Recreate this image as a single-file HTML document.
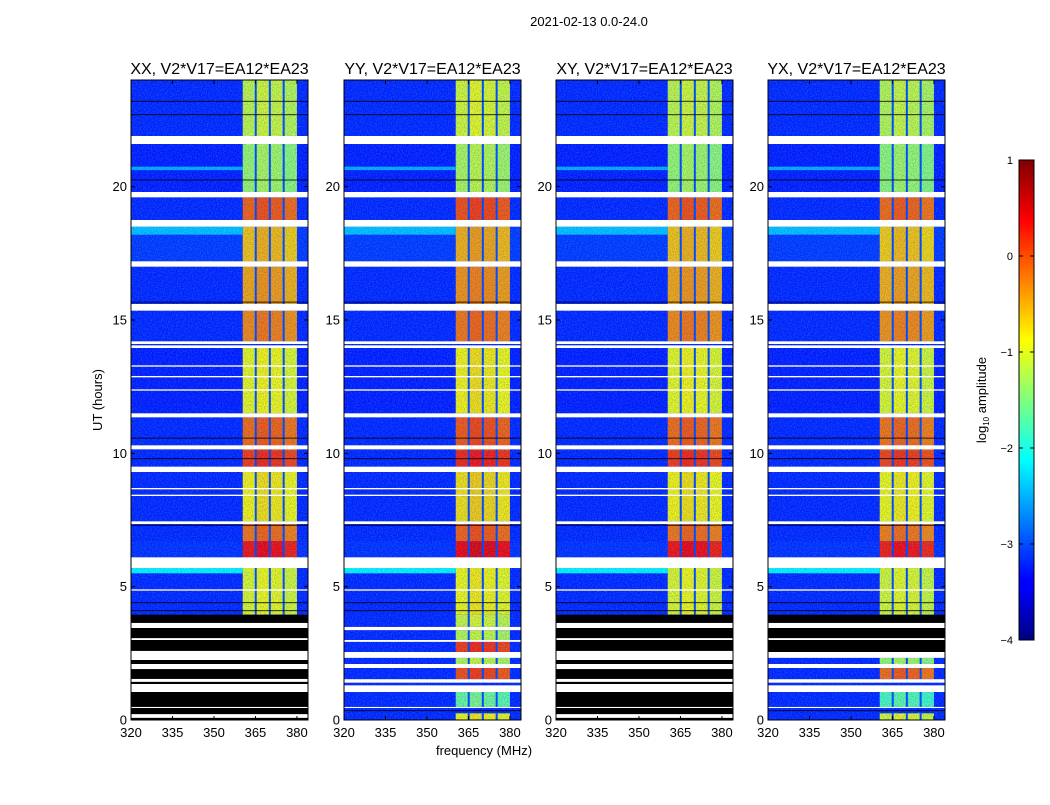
<!DOCTYPE html>
<html><head><meta charset="utf-8">
<style>
body{margin:0;background:#fff;}
svg text{font-family:"Liberation Sans",sans-serif;fill:#000;}
</style></head>
<body>
<svg id="fig" width="1050" height="800" viewBox="0 0 1050 800" xmlns="http://www.w3.org/2000/svg">
<defs>
<filter id="noise" x="0" y="0" width="100%" height="100%">
<feTurbulence type="fractalNoise" baseFrequency="0.8" numOctaves="1" seed="4"/>
<feColorMatrix values="0 0 0 0 0.1  0 0 0 0 0.6  0 0 0 0 1  0 0 0 1.2 -0.45"/>
</filter>
<filter id="noise2" x="0" y="0" width="100%" height="100%">
<feTurbulence type="fractalNoise" baseFrequency="0.9" numOctaves="1" seed="11"/>
<feColorMatrix values="0 0 0 0 0  0 0 0 0 0  0 0 0 0 0.55  0 0 0 1.2 -0.45"/>
</filter>
<linearGradient id="jet" x1="0" y1="1" x2="0" y2="0">
<stop offset="0" stop-color="#00007f"/><stop offset="0.11" stop-color="#0000ff"/>
<stop offset="0.125" stop-color="#0000ff"/><stop offset="0.375" stop-color="#00ffff"/>
<stop offset="0.625" stop-color="#ffff00"/><stop offset="0.875" stop-color="#ff0000"/>
<stop offset="1" stop-color="#7f0000"/>
</linearGradient>
</defs>
<text x="589" y="26" font-size="13" text-anchor="middle">2021-02-13 0.0-24.0</text>
<text x="484" y="755" font-size="13" text-anchor="middle">frequency (MHz)</text>
<text transform="translate(102,400) rotate(-90)" font-size="13" text-anchor="middle">UT (hours)</text>
<g id="panels"></g>
<g id="cbar">
<rect x="1019" y="160" width="15" height="480" fill="url(#jet)" stroke="#000" stroke-width="1"/>
</g>
<text transform="translate(986,400) rotate(-90)" font-size="13" text-anchor="middle">log<tspan font-size="8" dy="3">10</tspan><tspan dy="-3"> amplitude</tspan></text>
</svg>
<script>
const panelTitles=["XX, V2*V17=EA12*EA23","YY, V2*V17=EA12*EA23","XY, V2*V17=EA12*EA23","YX, V2*V17=EA12*EA23"];
const panelOffset=[0,0.1,0,-0.05];
// shared data rows (hours) with band log-amplitude and background log-amplitude
const rowStart=[24,21.6,19.6,18.5,17.0,15.35,13.95,11.35,10.1,9.3,7.35,6.7,5.7];
const rowEnd=[21.9,19.8,18.75,17.2,15.6,14.2,11.5,10.1,9.5,7.45,6.7,6.1,3.95];
const rowBand=[-1.15,-1.35,-0.1,-0.6,-0.45,-0.3,-0.95,-0.15,0.1,-0.85,-0.2,0.3,-1.0];
const rowBg=[-3.2,-3.25,-3.2,-3.1,-3.2,-3.2,-3.25,-3.2,-3.2,-3.2,-3.2,-3.15,-3.2];
// light background strips
const lightStart=[18.5,5.7,20.75];
const lightEnd=[18.2,5.5,20.62];
const lightVal=[-2.4,-2.1,-2.5];
// bottom rows for YY / YX (data present)
const lowStart=[3.95,3.37,2.93,2.33,1.95,1.05,0.25];
const lowEnd=[3.49,3.0,2.55,2.1,1.53,0.49,0];
const lowBand=[-1.2,-1.3,0.0,-1.3,-0.1,-1.7,-1.0];
const subOffset=[0,0.1,0.05,-0.05];
const subEdges=[360.4,365.1,370.2,375.2,380.0];
// flagged (white) rows
const whiteStart=[21.9,19.8,18.75,17.2,15.6,14.2,14.05,13.3,12.9,12.4,11.5,10.3,9.5,8.7,8.45,7.45,6.1,4.9];
const whiteEnd=[21.6,19.6,18.5,17.0,15.35,14.1,13.95,13.25,12.85,12.35,11.35,10.15,9.3,8.65,8.4,7.35,5.7,4.85];
const lowWhiteStart=[3.49,3.0,2.55,2.1,1.53,1.3,0.49];
const lowWhiteEnd=[3.37,2.93,2.33,1.95,1.4,1.05,0.45];
const blackLines=[23.2,22.7,20.25,15.67,10.57,9.8,7.3,4.4,4.1,0.35];
// per-panel black (no data) regions
const blockStart=[[3.95],[],[3.95],[3.95]];
const blockEnd=[[0],[],[0],[2.55]];
const stripeStart=[3.64,3.07,2.59,2.1,1.54,1.35,0.49,0.22];
const stripeEnd=[3.45,3.0,2.25,1.91,1.43,1.05,0.45,0.08];
const yTicks=[0,5,10,15,20];
const xTicks=[320,335,350,365,380];
const cbTicks=[1,0,-1,-2,-3,-4];

const NS="http://www.w3.org/2000/svg";
const panelLeft=[131,344,556,768], PW=177, PT=80, PH=640;
const FMIN=320, FMAX=384, CMIN=-4, CMAX=1;
function jet(v){let t=(v-CMIN)/(CMAX-CMIN);t=Math.max(0,Math.min(1,t));
 const c=x=>Math.round(255*Math.max(0,Math.min(1,x)));
 return `rgb(${c(1.5-Math.abs(4*t-3))},${c(1.5-Math.abs(4*t-2))},${c(1.5-Math.abs(4*t-1))})`;}
function mk(tag,attrs,parent){const e=document.createElementNS(NS,tag);for(const k in attrs)e.setAttribute(k,attrs[k]);parent.appendChild(e);return e;}
const root=document.getElementById('panels');
panelTitles.forEach((title,p)=>{
 const L=panelLeft[p];
 const xs=f=>L+(f-FMIN)/(FMAX-FMIN)*PW;
 const ys=h=>PT+PH-h/24*PH;
 const g=mk('g',{},root);
 
 
 mk('rect',{x:L,y:PT,width:PW,height:PH,fill:jet(-3.2)},g);
 const divs=[];
 const drawRow=(s,e,band,bg)=>{
  const y0=ys(s),y1=ys(e);
  const r=mk('rect',{x:L,y:y0,width:PW,height:y1-y0,fill:jet(bg)},g);
  
  
  for(let k=0;k<4;k++){
   const b=mk('rect',{x:xs(subEdges[k]),y:y0,width:xs(subEdges[k+1])-xs(subEdges[k]),height:y1-y0,fill:jet(band+panelOffset[p]+subOffset[k])},g);
   
   
  }
  divs.push([y0,y1]);
 };
 rowStart.forEach((s,i)=>drawRow(s,rowEnd[i],rowBand[i],rowBg[i]));
 if(p===1||p===3){lowStart.forEach((s,i)=>drawRow(s,lowEnd[i],lowBand[i],-3.2));}
 lightStart.forEach((s,i)=>{const y0=ys(s),y1=ys(lightEnd[i]);
  const r=mk('rect',{x:L,y:y0,width:xs(subEdges[0])-L,height:y1-y0,fill:jet(lightVal[i])},g);
  
  });
 mk('rect',{x:L,y:PT,width:PW,height:PH,filter:'url(#noise)',opacity:0.6},g);
 mk('rect',{x:L,y:PT,width:PW,height:PH,filter:'url(#noise2)',opacity:0.5},g);
 divs.forEach(([y0,y1])=>{for(let k=1;k<4;k++){
   mk('rect',{x:xs(subEdges[k])-1,y:y0,width:2,height:y1-y0,fill:jet(-3.0)},g);}});
 blackLines.forEach(h=>{mk('rect',{x:L,y:ys(h)-0.5,width:PW,height:1,fill:'#000','fill-opacity':0.8},g);});
 whiteStart.forEach((s,i)=>{const r=mk('rect',{x:L,y:ys(s),width:PW,height:ys(whiteEnd[i])-ys(s),fill:'#fff'},g);
  
  });
 if(p===1||p===3){lowWhiteStart.forEach((s,i)=>{mk('rect',{x:L,y:ys(s),width:PW,height:ys(lowWhiteEnd[i])-ys(s),fill:'#fff'},g);});}
 blockStart[p].forEach((s,i)=>{const y0=ys(s),y1=ys(blockEnd[p][i]);
  const r=mk('rect',{x:L,y:y0,width:PW,height:y1-y0,fill:'#000'},g);
  
  
  stripeStart.forEach((ss,j)=>{if(ss<=s&&stripeEnd[j]>=blockEnd[p][i]){
   mk('rect',{x:L,y:ys(ss),width:PW,height:ys(stripeEnd[j])-ys(ss),fill:'#fff'},g);}});
 });
 mk('rect',{x:L,y:PT,width:PW,height:PH,fill:'none',stroke:'#000','stroke-width':1},g);
 const t=mk('text',{x:L+PW/2,y:74,'font-size':16,'text-anchor':'middle'},g);
 t.textContent=title;
 
 
 yTicks.forEach(v=>{const y=ys(v);
  mk('line',{x1:L,x2:L+4,y1:y,y2:y,stroke:'#000'},g);mk('line',{x1:L+PW-4,x2:L+PW,y1:y,y2:y,stroke:'#000'},g);
  const tt=mk('text',{x:L-4,y:y+4.5,'font-size':13,'text-anchor':'end'},g);tt.textContent=v;
  
  });
 xTicks.forEach(v=>{const x=xs(v);
  mk('line',{x1:x,x2:x,y1:PT+PH,y2:PT+PH-4,stroke:'#000'},g);mk('line',{x1:x,x2:x,y1:PT,y2:PT+4,stroke:'#000'},g);
  const tt=mk('text',{x:x,y:737,'font-size':13,'text-anchor':'middle'},g);tt.textContent=v;
  
  });
});
const cb=document.getElementById('cbar');
cbTicks.forEach(v=>{const y=160+(CMAX-v)/(CMAX-CMIN)*480;
 mk('line',{x1:1019,x2:1023,y1:y,y2:y,stroke:'#000'},cb);mk('line',{x1:1030,x2:1034,y1:y,y2:y,stroke:'#000'},cb);
 const tt=mk('text',{x:1013,y:y+4,'font-size':11,'text-anchor':'end'},cb);tt.textContent=v<0?'\u2212'+(-v):String(v);
 
 });
</script>
</body></html>
